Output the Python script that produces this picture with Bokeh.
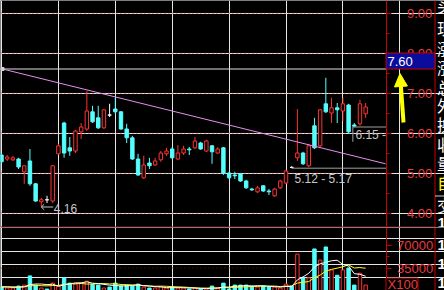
import numpy as np
from bokeh.plotting import figure
from bokeh.layouts import column
from bokeh.models import Range1d, LinearAxis, FixedTicker, NumeralTickFormatter, Arrow, NormalHead
from bokeh.core.properties import value
from bokeh.embed import file_html
from bokeh.resources import INLINE

# ---------------- data ----------------
opens = [5.45, 5.35, 5.33, 5.35, 5.03, 5.30, 4.73, 4.28, 4.33, 4.30,
         5.48, 6.25, 5.63, 5.55, 6.03, 6.10, 6.53, 6.38, 6.13, 6.45,
         6.60, 6.53, 6.10, 5.88, 5.35, 4.88, 5.25, 5.20, 5.33, 5.48,
         5.60, 5.35, 5.50, 5.60, 5.63, 5.75, 5.55, 5.68, 5.50, 5.63,
         5.00, 4.95, 4.98, 4.80, 4.60, 4.53, 4.68, 4.55, 4.43, 4.63,
         4.75, 5.14, 5.38, 5.50, 5.18, 6.18, 5.68, 6.73, 6.50, 6.63,
         6.55, 6.70, 6.20, 6.23, 6.48]
highs = [5.50, 5.45, 5.43, 5.38, 5.20, 5.60, 4.75, 4.38, 4.43, 5.20,
         5.73, 6.28, 5.90, 6.08, 6.25, 7.05, 6.68, 6.68, 6.60, 6.73,
         6.88, 6.55, 6.23, 5.93, 5.48, 5.43, 5.38, 5.38, 5.55, 5.63,
         5.65, 5.70, 5.68, 5.65, 5.90, 5.78, 5.83, 5.70, 5.65, 5.65,
         5.03, 5.03, 5.00, 4.83, 4.63, 4.68, 4.70, 4.60, 4.63, 4.83,
         5.08, 5.17, 6.60, 5.53, 5.73, 6.38, 6.60, 7.38, 6.88, 6.75,
         6.88, 6.73, 6.25, 6.83, 6.75]
lows = [5.25, 5.30, 5.30, 5.10, 4.73, 4.68, 4.28, 4.16, 4.25, 4.25,
        5.45, 5.38, 5.43, 5.50, 5.85, 6.05, 6.25, 6.10, 6.10, 6.40,
        6.48, 6.08, 5.75, 5.33, 4.93, 4.85, 5.10, 5.18, 5.28, 5.43,
        5.35, 5.33, 5.45, 5.45, 5.60, 5.58, 5.53, 5.23, 5.48, 4.95,
        4.85, 4.85, 4.78, 4.60, 4.55, 4.50, 4.53, 4.45, 4.40, 4.60,
        4.73, 5.12, 5.30, 5.20, 5.15, 5.60, 5.65, 6.50, 6.25, 6.25,
        6.30, 5.98, 6.15, 6.18, 6.38]
closes = [5.28, 5.40, 5.38, 5.15, 5.18, 4.73, 4.30, 4.33, 4.33, 5.18,
          5.68, 5.50, 5.55, 6.05, 6.15, 6.55, 6.28, 6.13, 6.58, 6.45,
          6.53, 6.10, 5.88, 5.35, 4.95, 5.20, 5.18, 5.30, 5.50, 5.55,
          5.38, 5.50, 5.60, 5.58, 5.80, 5.60, 5.80, 5.53, 5.60, 5.00,
          4.88, 4.93, 4.80, 4.63, 4.58, 4.63, 4.55, 4.53, 4.60, 4.80,
          5.05, 5.14, 5.50, 5.23, 5.68, 5.63, 6.58, 6.53, 6.63, 6.58,
          6.73, 6.03, 6.17, 6.73, 6.65]
volumes = [6000, 4500, 4500, 7500, 9000, 23000, 9000, 4500, 3000, 12000,
           7500, 20000, 12000, 10500, 12000, 15000, 10000, 9000, 4500, 6000,
           12000, 7500, 9000, 7500, 10500, 6000, 4500, 4500, 6000, 4500,
           6000, 4500, 4500, 3000, 4500, 3000, 3000, 7500, 4500, 12000,
           3000, 9000, 9000, 9000, 7500, 6000, 7500, 6000, 6000, 4500,
           10500, 7500, 56000, 20000, 20000, 64000, 47000, 67000, 32000, 24000,
           32000, 35000, 9000, 27000, 9000]
vol_ma5 = [6000, 6000, 5500, 5800, 6300, 9700, 10600, 10600, 9700, 10300,
           7200, 9400, 10900, 12400, 12400, 13900, 11900, 11300, 10100, 8900,
           8300, 7800, 7800, 8400, 9300, 8100, 7500, 6600, 6300, 5100,
           5100, 5100, 5100, 4500, 4500, 3900, 3600, 4200, 4500, 6000,
           6000, 7200, 7500, 8400, 7500, 8100, 7800, 7200, 6600, 6000,
           6900, 6900, 16900, 21500, 27000, 36500, 41400, 43600, 46000, 46800,
           40400, 38000, 26400, 25400, 22400]
vol_ma10 = [6500, 6500, 6300, 6200, 6400, 7900, 8300, 8100, 7800, 8300,
            8500, 10000, 10800, 11100, 11400, 10600, 10700, 11100, 11300, 10700,
            11100, 9900, 9600, 9300, 9100, 8200, 7700, 7200, 7400, 7200,
            6600, 6300, 5900, 5400, 4800, 4500, 4400, 4700, 4500, 5300,
            5000, 5400, 5900, 6500, 6800, 7100, 7500, 7400, 7500, 6800,
            7500, 7400, 12100, 13200, 14400, 20200, 24200, 30300, 32900, 34800,
            37000, 39700, 35000, 35700, 34600]

price_ticks = [4.0, 5.0, 6.0, 7.0, 8.0, 9.0]
price_minor_ticks = [3.5, 4.5, 5.5, 6.5, 7.5, 8.5]
volume_ticks = [35000, 70000]
volume_minor_ticks = [17500, 52500]
volume_grid = [35000]

resistance_level = 7.60
trend_x = [0.18, 67.5]
trend_y = [7.60, 5.23]
low_mark_index, low_mark_value = 7, 4.16
support_index, support_low, support_high = 51, 5.12, 5.17
stop_index, stop_value = 61.75, 6.15
side_labels = ["买", "现", "涨", "涨", "总", "外", "换", "收", "量", "自", "交"]
side_label_rows = [4, 27, 47, 66, 86, 104, 123, 143, 162, 181, 204]
side_digits = ["1", "1", "1"]
side_digit_rows = [244, 263, 282]

# ---------------- layout / style constants ----------------
W, H_PRICE, H_VOL = 444, 227, 63
PX = 5.69                     # pixels per candle
X0 = -0.176
X1 = X0 + W / PX
P_TOP = 9.30 + 0.5 / 40.0     # half-pixel shift for crisp lines
P_BOT = P_TOP - H_PRICE / 40.0
V_PER_PX = 70000 / 46.0
V_BOT = 0.5 * V_PER_PX
V_TOP = V_BOT + H_VOL * V_PER_PX


def dx(px):
    return X0 + px / PX


def py(ypx):
    return P_TOP - ypx / 40.0


def vy(ypx):
    return V_BOT + (290 - ypx) * V_PER_PX


AXIS_X = dx(385.5)
STRIP_X = dx(434.5)

RED = "#ff3232"
CYAN = "#54ffff"
AXIS_RED = "#c80000"
LABEL_RED = "#e83c3c"
GRID_RED = "#a00000"
GREY = "#c8c8c8"
FONT = "Liberation Sans"

o = np.array(opens); h = np.array(highs); l = np.array(lows); c = np.array(closes)
idx = np.arange(len(o))
top = np.maximum(o, c)
bot = np.minimum(o, c)
up = c > o
down = c < o
cand_col = np.where(up, RED, np.where(down, CYAN, "#ffffff")).tolist()
cand_fill = np.where(up, "#000000", np.where(down, CYAN, "#ffffff")).tolist()


def base_fig(height, y0, y1):
    f = figure(width=W, height=height, x_range=Range1d(X0, X1), y_range=Range1d(y0, y1),
               output_backend="svg", toolbar_location=None,
               x_axis_location=None, y_axis_location=None,
               background_fill_color="black", border_fill_color="black",
               outline_line_color=None, min_border=0)
    return f


def hline(f, x0, x1, y, **kw):
    f.segment(x0=[x0], x1=[x1], y0=[y], y1=[y], **kw)


def vline(f, x, y0, y1, **kw):
    f.segment(x0=[x], x1=[x], y0=[y0], y1=[y1], **kw)


# ---------------- price panel ----------------
p = base_fig(H_PRICE, P_BOT, P_TOP)

p.segment(x0=[X0] * len(price_ticks), x1=[AXIS_X] * len(price_ticks),
          y0=price_ticks, y1=price_ticks,
          line_color=GRID_RED, line_dash="1 3", line_width=1)

hline(p, X0, AXIS_X, resistance_level, line_color="#e0e0e0", line_width=1)

p.segment(x0=idx, y0=h, x1=idx, y1=top, line_color=cand_col, line_width=1)
p.segment(x0=idx, y0=bot, x1=idx, y1=l, line_color=cand_col, line_width=1)
p.vbar(x=idx, top=top, bottom=bot, width=0.6, fill_color=cand_fill,
       line_color=cand_col, line_width=1)

p.line(trend_x, trend_y, line_color="#e690f0", line_width=1)
p.scatter([trend_x[0]], [trend_y[0]], marker="square", size=3, color="#d0d0d0")

# price labels
hline(p, support_index, AXIS_X, support_low, line_color="#a0a0a0")
p.text(x=[support_index + 0.5], y=[4.85], text=[f"{support_low:.2f} - {support_high:.2f}"],
       text_font=value(FONT), text_font_size="12px", text_color=GREY,
       text_baseline="middle", text_align="left")

hline(p, stop_index, AXIS_X, stop_value, line_color="#a0a0a0")
vline(p, stop_index, stop_value, stop_value - 0.37, line_color="#a0a0a0")
p.text(x=[stop_index + 0.45], y=[5.95], text=[f"{stop_value:.2f} -"],
       text_font=value(FONT), text_font_size="12px", text_color=GREY,
       text_baseline="middle", text_align="left")

hline(p, low_mark_index, low_mark_index + 2.1, low_mark_value - 0.01, line_color=GREY)
p.segment(x0=[low_mark_index, low_mark_index], x1=[low_mark_index + 0.5, low_mark_index + 0.5],
          y0=[low_mark_value - 0.01, low_mark_value - 0.01],
          y1=[low_mark_value + 0.06, low_mark_value - 0.08], line_color=GREY)
p.text(x=[low_mark_index + 2.2], y=[4.11], text=[f"{low_mark_value:.2f}"],
       text_font=value(FONT), text_font_size="12px", text_color=GREY,
       text_baseline="middle", text_align="left")

# separator and strip
hline(p, X0, STRIP_X, py(226.5), line_color=AXIS_RED)
vline(p, STRIP_X, P_BOT, P_TOP, line_color=AXIS_RED)
hline(p, STRIP_X, X1, py(195.5), line_color="#d0d0d0")
side_cols = ["#ffff00" if s == "自" else "#ffffff" for s in side_labels]
p.text(x=[STRIP_X + 2 / PX] * len(side_labels), y=[py(r) for r in side_label_rows],
       text=side_labels, text_font=value("Noto Sans CJK SC"), text_font_size="16px",
       text_color=side_cols, text_baseline="middle", text_align="left")
p.text(x=[STRIP_X + 2.5 / PX], y=[py(222)], text=["1"],
       text_font=value(FONT), text_font_size="15px", text_color="#ffffff",
       text_baseline="middle", text_align="left", text_font_style="bold")

pa = LinearAxis(fixed_location=AXIS_X,
                ticker=FixedTicker(ticks=price_ticks, minor_ticks=price_minor_ticks),
                formatter=NumeralTickFormatter(format="0.00"),
                axis_line_color=AXIS_RED, major_tick_line_color=AXIS_RED,
                minor_tick_line_color=AXIS_RED, major_tick_in=0, major_tick_out=5,
                minor_tick_in=0, minor_tick_out=3,
                major_label_text_color=LABEL_RED, major_label_text_font=FONT,
                major_label_text_font_size="13px", major_label_standoff=16)
p.add_layout(pa, "right")

# 7.60 price box and arrow
p.quad(left=[AXIS_X], right=[STRIP_X], bottom=[resistance_level], top=[resistance_level + 0.40],
       fill_color="#0c0c9c", line_color=AXIS_RED, level="overlay")
p.text(x=[AXIS_X + 0.25], y=[resistance_level + 0.20], text=[f"{resistance_level:.2f}"],
       text_font=value(FONT), text_font_size="13px", text_color="#ffffff",
       text_baseline="middle", text_align="left", level="overlay")
p.add_layout(Arrow(end=NormalHead(size=13, fill_color="#ffff00", line_color="#ffff00"),
                   x_start=dx(403), y_start=py(122), x_end=dx(399.5), y_end=py(73),
                   line_color="#ffff00", line_width=4))

# ---------------- volume panel ----------------
v = base_fig(H_VOL, V_BOT, V_TOP)
v.segment(x0=[X0] * len(volume_grid), x1=[AXIS_X] * len(volume_grid),
          y0=volume_grid, y1=volume_grid,
          line_color=GRID_RED, line_dash="1 3", line_width=1)
vcol = np.where(up, RED, CYAN).tolist()
vfill = np.where(up, "#000000", CYAN).tolist()
v.vbar(x=idx, top=volumes, bottom=0, width=0.6, fill_color=vfill, line_color=vcol, line_width=1)
v.line(idx, vol_ma10, line_color="#ffff00", line_width=1)
v.line(idx, vol_ma5, line_color="#ffffff", line_width=1)

vline(v, STRIP_X, V_BOT, V_TOP, line_color=AXIS_RED)
v.text(x=[STRIP_X + 2.5 / PX] * len(side_digits), y=[vy(r) for r in side_digit_rows],
       text=side_digits, text_font=value(FONT), text_font_size="15px", text_color="#ffffff",
       text_baseline="middle", text_align="left", text_font_style="bold")

va = LinearAxis(fixed_location=AXIS_X,
                ticker=FixedTicker(ticks=volume_ticks, minor_ticks=volume_minor_ticks),
                formatter=NumeralTickFormatter(format="0"),
                axis_line_color=AXIS_RED, major_tick_line_color=AXIS_RED,
                minor_tick_line_color=AXIS_RED, major_tick_in=0, major_tick_out=5,
                minor_tick_in=0, minor_tick_out=3,
                major_label_text_color=LABEL_RED, major_label_text_font=FONT,
                major_label_text_font_size="13px", major_label_standoff=6)
v.add_layout(va, "right")

v.quad(left=[AXIS_X], right=[dx(417.5)], bottom=[0], top=[vy(277.5)],
       fill_color="#000000", line_color=AXIS_RED, level="overlay")
v.text(x=[dx(387)], y=[vy(284)], text=["X100"],
       text_font=value(FONT), text_font_size="13px", text_color=LABEL_RED,
       text_baseline="middle", text_align="left", level="overlay")

layout = column(p, v, spacing=0)
open("out.html", "w").write(file_html(layout, INLINE))
